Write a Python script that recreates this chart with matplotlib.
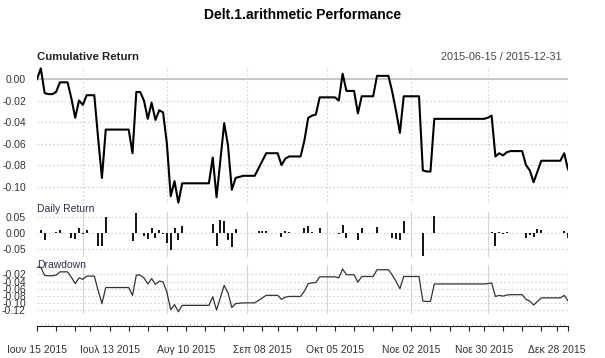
import numpy as np
import pandas as pd
import matplotlib
matplotlib.use('Agg')
import matplotlib.pyplot as plt

plt.rcParams['font.family'] = ['Liberation Sans', 'DejaVu Sans']

# trading days, exchange holidays removed
holidays = ['2015-07-03', '2015-09-07', '2015-11-26', '2015-12-25']
dates = pd.bdate_range('2015-06-15', '2015-12-31').drop(pd.to_datetime(holidays))

cum_return = [
    0.000, 0.010, -0.013, -0.014, -0.014, -0.012, -0.003, -0.003, -0.003, -0.018,
    -0.036, -0.020, -0.024, -0.015, -0.015, -0.015, -0.055, -0.092, -0.047, -0.047,
    -0.047, -0.047, -0.047, -0.047, -0.047, -0.069, -0.012, -0.012, -0.020, -0.037,
    -0.022, -0.038, -0.029, -0.031, -0.060, -0.109, -0.095, -0.115, -0.097, -0.097,
    -0.097, -0.097, -0.097, -0.097, -0.097, -0.097, -0.073, -0.110, -0.075, -0.041,
    -0.062, -0.103, -0.092, -0.091, -0.090, -0.090, -0.090, -0.090, -0.083, -0.076,
    -0.069, -0.069, -0.069, -0.069, -0.080, -0.074, -0.072, -0.072, -0.072, -0.072,
    -0.057, -0.036, -0.034, -0.033, -0.017, -0.017, -0.017, -0.017, -0.017, -0.020,
    0.005, -0.011, -0.011, -0.011, -0.032, -0.016, -0.016, -0.016, -0.016, 0.003,
    0.003, 0.003, 0.003, -0.012, -0.030, -0.050, -0.016, -0.016, -0.016, -0.016,
    -0.016, -0.085, -0.086, -0.086, -0.037, -0.037, -0.037, -0.037, -0.037, -0.037,
    -0.037, -0.037, -0.037, -0.037, -0.037, -0.037, -0.037, -0.037, -0.036, -0.034,
    -0.072, -0.069, -0.071, -0.068, -0.067, -0.067, -0.067, -0.067, -0.080, -0.085,
    -0.096, -0.086, -0.076, -0.076, -0.076, -0.076, -0.076, -0.076, -0.069, -0.084,
]

month_names = {6: 'Ιουν', 7: 'Ιουλ', 8: 'Αυγ', 9: 'Σεπ', 10: 'Οκτ', 11: 'Νοε', 12: 'Δεκ'}

cum = np.array(cum_return)
wealth = 1 + cum
daily = wealth / np.concatenate([[1.0], wealth[:-1]]) - 1
peak = np.maximum.accumulate(np.concatenate([[1.0], wealth]))[1:]
drawdown = wealth / peak - 1

x = np.arange(len(dates))
n = len(dates)

# positions: first day of each month / week
months = dates.month
month_starts = [i for i in range(1, n) if months[i] != months[i - 1]] + [n - 1]
weeks = dates.isocalendar().week.values
week_starts = [0] + [i for i in range(1, n) if weeks[i] != weeks[i - 1]]
labelled = week_starts[::4]

W, H = 605, 358
fig = plt.figure(figsize=(W / 100, H / 100), dpi=100)


def panel(top, bottom):
    return fig.add_axes([37 / W, 1 - bottom / H, 531 / W, (bottom - top) / H])


grid_c = '#d4d4d4'
txt_c = '#333333'


def style(ax, ticks, fmt, vstyle):
    ax.set_xlim(0, n - 1)
    for s in ax.spines.values():
        s.set_visible(False)
    ax.set_yticks(ticks)
    ax.set_yticklabels([fmt % t for t in ticks])
    ax.tick_params(axis='y', length=0, pad=8, labelsize=7.5, labelcolor=txt_c)
    ax.tick_params(axis='x', bottom=False, labelbottom=False)
    for t in ticks:
        ax.axhline(t, color=grid_c, lw=0.8, ls=(0, (1.5, 2)), zorder=0)
    for m in month_starts:
        ax.axvline(m, color=grid_c, lw=0.8, ls=vstyle, zorder=0)


# cumulative return
ax1 = panel(67, 204)
lo, hi = cum.min(), cum.max()
pad = (hi - lo) * 0.01
ax1.set_ylim(lo - pad, hi + pad)
style(ax1, [0.0, -0.02, -0.04, -0.06, -0.08, -0.10], '%.2f', (0, (1.5, 2)))
ax1.axhline(0, color='#c4c4c4', lw=1.3, zorder=1)
ax1.plot(x, cum, color='black', lw=1.5, zorder=3)

# daily return
ax2 = panel(212, 257)
lo, hi = daily.min(), daily.max()
pad = (hi - lo) * 0.03
ax2.set_ylim(lo - pad, hi + pad)
style(ax2, [0.05, 0.0, -0.05], '%.2f', '-')
ax2.vlines(x, 0, daily, color='black', lw=1.3, zorder=3)

# drawdown
ax3 = panel(265, 314)
lo, hi = drawdown.min(), drawdown.max()
pad = (hi - lo) * 0.05
ax3.set_ylim(lo - pad, hi + pad)
style(ax3, [-0.02, -0.04, -0.06, -0.08, -0.10, -0.12], '%.2f', '-')
ax3.plot(x, drawdown, color='#333333', lw=0.9, zorder=3)

# date axis under the last panel
sp = ax3.spines['bottom']
sp.set_visible(True)
sp.set_position(('outward', 8.6))
sp.set_color('#222222')
ax3.set_xticks(week_starts + [n - 1])
ax3.set_xticklabels(['%s %02d %d' % (month_names[dates[i].month], dates[i].day, dates[i].year)
                     if i in labelled else '' for i in week_starts] + [''])
ax3.tick_params(axis='x', bottom=True, labelbottom=True, direction='out', length=3.6,
                width=0.8, color='#222222', pad=10, labelsize=7.5, labelcolor=txt_c)
ax3.set_xticks(x, minor=True)
ax3.tick_params(axis='x', which='minor', direction='in', length=2.5, width=0.5, color='#c8c8c8')

# titles
fig.text(0.5, 1 - 15 / H, 'Delt.1.arithmetic Performance', ha='center', va='center',
         fontsize=10, fontweight='bold')
fig.text(37 / W, 1 - 57 / H, 'Cumulative Return', ha='left', va='center',
         fontsize=8.2, fontweight='bold', color='#222222')
fig.text(562 / W, 1 - 57 / H, '%s / %s' % (dates[0].strftime('%Y-%m-%d'), dates[-1].strftime('%Y-%m-%d')),
         ha='right', va='center', fontsize=7.8, color='#444444')
fig.text(37 / W, 1 - 209 / H, 'Daily Return', ha='left', va='center', fontsize=7.5, color='#2e2e4a')
fig.text(37 / W, 1 - 265 / H, 'Drawdown', ha='left', va='center', fontsize=7.5, color='#2e2e4a')

fig.savefig('out.png', dpi=100)
